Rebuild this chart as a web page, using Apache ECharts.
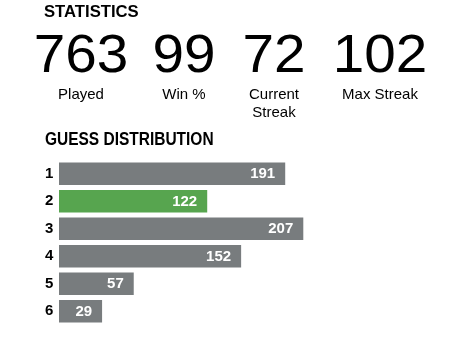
<!DOCTYPE html>
<html><head><meta charset="utf-8">
<script src="https://cdn.jsdelivr.net/npm/echarts@6/dist/echarts.min.js"></script>
<style>html,body{margin:0;padding:0;background:#fff}#c{width:451px;height:337px}</style>
</head><body><div id="c"></div>
<script>
const statValues = ['763', '99', '72', '102'];
const statLabels = ['Played', 'Win %', 'Current\nStreak', 'Max Streak'];
const guessCategories = ['1', '2', '3', '4', '5', '6'];
const guessCounts = [191, 122, 207, 152, 57, 29];
const highlightIndex = 1;

const chart = echarts.init(document.getElementById('c'), null, {renderer: 'canvas'});
const statCenters = [81, 184, 274, 380];
const GREY = '#787c7e', GREEN = '#57a54f';
const PAD = 10.3;

const graphics = [
  {type: 'text', x: 44, y: 12.5, scaleX: 0.98, style: {text: 'STATISTICS', font: 'bold 17px "Liberation Sans", Arial', fill: '#000', verticalAlign: 'middle'}},
  {type: 'text', x: 45, y: 140, scaleX: 0.86, style: {text: 'GUESS DISTRIBUTION', font: 'bold 18px "Liberation Sans", Arial', fill: '#000', verticalAlign: 'middle'}}
];
statValues.forEach((v, i) => {
  graphics.push({type: 'text', x: statCenters[i], y: 57, scaleX: 1.05, style: {text: v, font: '54px "Liberation Sans", Arial', fill: '#000', align: 'center', verticalAlign: 'middle'}});
  graphics.push({type: 'text', x: statCenters[i], y: 86, style: {text: statLabels[i], font: '15px "Liberation Sans", Arial', fill: '#000', align: 'center', verticalAlign: 'top', lineHeight: 18}});
});

chart.setOption({
  animation: false,
  graphic: graphics,
  grid: {left: 59, right: 158, top: 160, bottom: 12},
  xAxis: {type: 'value', min: 0, max: 207, show: false},
  yAxis: {type: 'category', inverse: true, data: guessCategories,
    axisLine: {show: false}, axisTick: {show: false},
    axisLabel: {align: 'left', margin: 14, color: '#000', fontWeight: 'bold', fontSize: 15, fontFamily: '"Liberation Sans", Arial'}},
  series: [{
    type: 'custom',
    data: guessCounts.map((v, i) => [v, i]),
    encode: {x: 0, y: 1},
    renderItem: function (params, api) {
      const v = api.value(0), idx = api.value(1);
      const start = api.coord([0, idx]);
      const end = api.coord([v, idx]);
      const h = api.size([0, 1])[1] * 0.82;
      const x1 = start[0], x2 = end[0] + PAD;
      return {type: 'group', children: [
        {type: 'rect', shape: {x: x1, y: start[1] - h / 2, width: x2 - x1, height: h},
         style: {fill: idx === highlightIndex ? GREEN : GREY}},
        {type: 'text', style: {x: x2 - 10, y: start[1] + 0.5, text: String(v), align: 'right', verticalAlign: 'middle',
          font: 'bold 15px "Liberation Sans", Arial', fill: '#fff'}}
      ]};
    }
  }]
});
</script></body></html>
